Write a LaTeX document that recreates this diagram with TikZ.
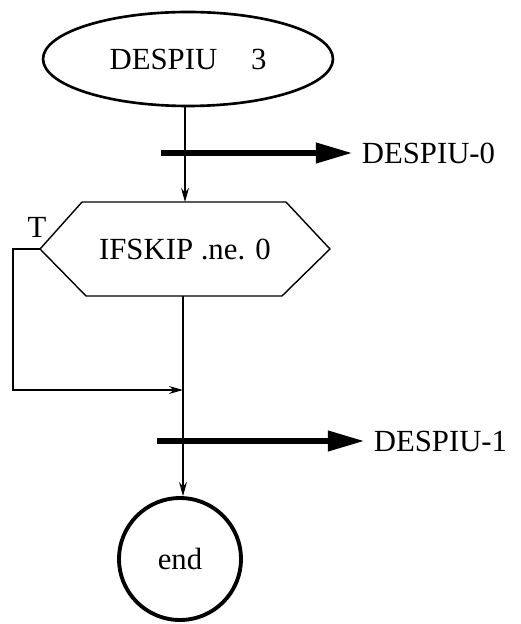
\documentclass[tikz,border=0pt]{standalone}
\usepackage{fontspec}
\setmainfont{Liberation Serif}
\usetikzlibrary{arrows.meta, shapes.geometric, calc, positioning}
\tikzset{
  termnode/.style={
    ellipse, draw, line width=1.5pt,
    minimum width=5.8cm, minimum height=1.88cm,
    font=\fontsize{17.5}{20}\selectfont,
  },
  condnode/.style={
    rectangle, outer sep=0pt,
    minimum width=5.8cm, minimum height=1.88cm,
    font=\fontsize{17.5}{20}\selectfont,
  },
  endnode/.style={
    circle, draw, line width=2.2pt, minimum size=2.44cm,
    font=\fontsize{17.5}{20}\selectfont,
  },
  outlbl/.style={
    anchor=west, inner sep=2pt,
    font=\fontsize{17.5}{20}\selectfont,
  },
  conn/.style={
    -{Stealth[length=8pt,width=4.5pt]}, line width=0.7pt,
  },
  bigarr/.style={
    -{Triangle[length=21pt,width=11pt]}, line width=3.5pt,
  },
}
\begin{document}
\begin{tikzpicture}[x=0.02cm,y=-0.02cm]
  \useasboundingbox (0,0) rectangle (520,624);
  \node[termnode] (start) at (188,59) {DESPIU\hspace{1.1em}3};
  \node[condnode] (cond) at (185,249) {IFSKIP .ne. 0};
  \draw[line width=0.8pt] (cond.west) -- ($(cond.north west)+(42,0)$)
    -- ($(cond.north east)+(-44,0)$) -- (cond.east)
    -- ($(cond.south east)+(-48,0)$) -- ($(cond.south west)+(46,0)$) -- cycle;
  \node[endnode] (end) at (180,559) {end};
  \node[font=\fontsize{17.5}{20}\selectfont, inner sep=1pt] (tlbl) at (37,227) {T};
  % side outputs
  \node[outlbl] (out0) at (358,153) {DESPIU-0};
  \node[outlbl] (out1) at (370,441) {DESPIU-1};
  \coordinate (s0) at (161,153);
  \coordinate (s1) at (157,441);
  \coordinate (join) at (183,390);
  \draw[conn] (start.south -| 185,0) -- (cond.north -| 185,0);
  \draw[line width=0.7pt] (cond.south -| 183,0) -- (join);
  \draw[conn] (join) -- (end.north -| 183,0);
  \draw[conn] (cond.west) -- ++(-27,0) |- (join);
  \draw[bigarr, shorten >=3pt] (s0) -- (out0.west);
  \draw[bigarr, shorten >=3pt] (s1) -- (out1.west);
\end{tikzpicture}
\end{document}
